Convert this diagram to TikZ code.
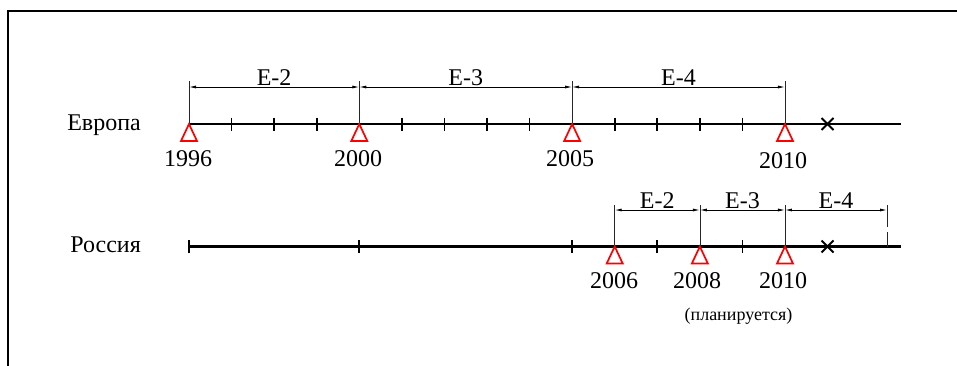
\documentclass[tikz,border=0pt]{standalone}
\usepackage{fontspec}
\setmainfont{Liberation Serif}
\usetikzlibrary{arrows.meta,calc}
\begin{document}
\begin{tikzpicture}[x=1pt,y=-1pt,
  frame/.style={line width=1.5pt, line cap=rect},
  axis/.style={line width=2.4pt},
  tickmark/.style={line width=1.7pt},
  ext/.style={line width=0.7pt, draw=black!85},
  dim/.style={line width=0.8pt, {Latex[length=7pt,width=3pt]}-{Latex[length=7pt,width=3pt]}},
  tri/.style={draw=red, line width=1.7pt, line join=miter},
  xmark/.style={line width=1.9pt},
  lbl/.style={font=\fontsize{24}{24}\selectfont, inner sep=0pt},
  yr/.style={font=\fontsize{24}{24}\selectfont, inner sep=0pt, anchor=base},
  small/.style={font=\fontsize{18}{18}\selectfont, inner sep=0pt, anchor=base}
]
\useasboundingbox (0,0) rectangle (957,365);
% frame (clipped on right and bottom)
\draw[frame] (8,366) -- (8,11) -- (958,11);

% coordinates
\foreach \y in {1996,...,2011}{
  \coordinate (e\y) at ({189+(\y-1996)*42.57},124);
  \coordinate (de\y) at ({189+(\y-1996)*42.57},87);
  \coordinate (r\y) at ({189+(\y-1996)*42.57},246.5);
  \coordinate (dr\y) at ({189+(\y-1996)*42.57},210);
}
\coordinate (eend) at (901,124);
\coordinate (rend) at (901,246.5);
\coordinate (rlast) at (887,246.5);
\coordinate (drlast) at (887,210);

% row labels
\node[lbl, anchor=base east] (europe) at (141,130) {Европа};
\node[lbl, anchor=base east] (russia) at (141,252) {Россия};

% ===== Europe =====
\draw[axis] (e1996) -- (eend);
\foreach \y in {1997,1998,1999,2001,2002,2003,2004,2006,2007,2008,2009}
  \draw[tickmark] ([yshift=6.5pt]e\y) -- ++(0,13);
\foreach \y in {1996,2000,2005,2010}{
  \draw[ext] (e\y) -- ++(0,-43);
  \draw[tri] (e\y) -- ++(-8,17) -- ++(16,0) -- cycle;
}
\draw[dim] (de1996) -- (de2000) node[lbl, midway, anchor=base, yshift=2pt] (ee2) {E-2};
\draw[dim] (de2000) -- (de2005) node[lbl, midway, anchor=base, yshift=2pt] (ee3) {E-3};
\draw[dim] (de2005) -- (de2010) node[lbl, midway, anchor=base, yshift=2pt] (ee4) {E-4};
\draw[xmark] (e2011) +(-6,-6) -- +(6,6) +(-6,6) -- +(6,-6);
\node[yr] (y1996) at (188,166.5) {1996};
\node[yr] (y2000) at (358,166.5) {2000};
\node[yr] (y2005) at (570,166.5) {2005};
\node[yr] (y2010) at (783,168.5) {2010};

% ===== Russia =====
\draw[axis] (r1996) -- (rend);
\foreach \y in {1996,2000,2005,2007,2009}
  \draw[tickmark] ([yshift=6.5pt]r\y) -- ++(0,13);
\foreach \y in {2006,2008,2010}{
  \draw[ext] (r\y) -- ++(0,-41.5);
  \draw[tri] (r\y) -- ++(-8,17) -- ++(16,0) -- cycle;
}
\draw[ext, dash pattern=on 22pt off 5pt] (drlast) ++(0,-5) -- (rlast);
\draw[dim] (dr2006) -- (dr2008) node[lbl, midway, anchor=base, yshift=2pt] (re2) {E-2};
\draw[dim] (dr2008) -- (dr2010) node[lbl, midway, anchor=base, yshift=2pt] (re3) {E-3};
\draw[dim] (dr2010) -- (drlast) node[lbl, midway, anchor=base, yshift=2pt] (re4) {E-4};
\draw[xmark] (r2011) +(-6,-6) -- +(6,6) +(-6,6) -- +(6,-6);
\node[yr] (y2006) at (614,288.5) {2006};
\node[yr] (y2008) at (697,288.5) {2008};
\node[yr] (y2010r) at (783,288.5) {2010};
\node[small] (plan) at (738.5,320) {(планируется)};
\end{tikzpicture}
\end{document}
